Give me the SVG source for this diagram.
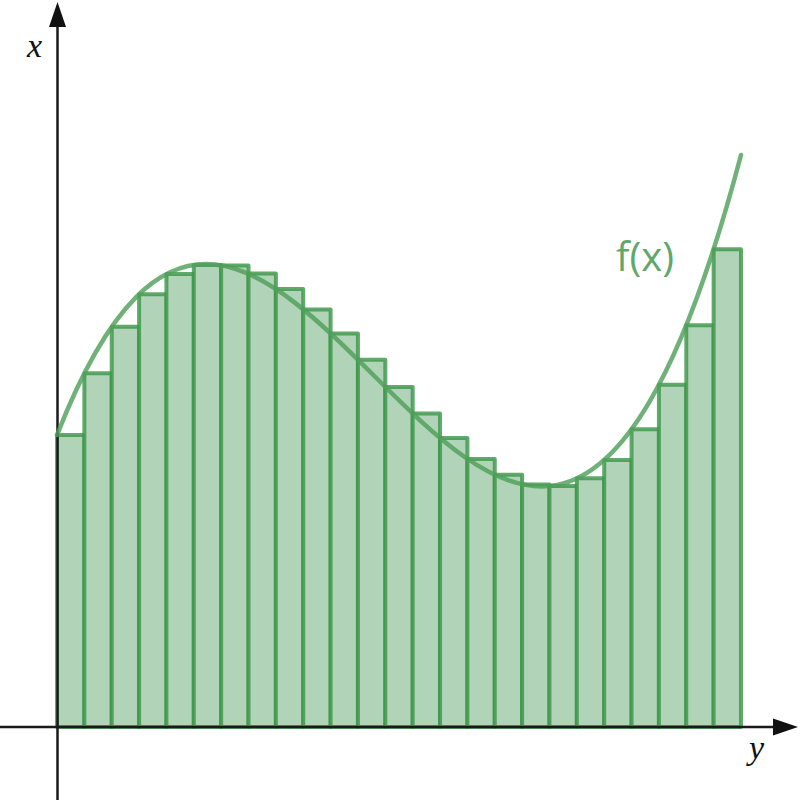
<svg xmlns="http://www.w3.org/2000/svg" width="800" height="800" viewBox="0 0 800 800">
<style>
.bar{fill:#b1d3b7;stroke:#3d974a;stroke-opacity:0.82;stroke-width:4;stroke-linejoin:round}
.curve{fill:none;stroke:#4fa05a;stroke-opacity:0.82;stroke-width:4.5;stroke-linecap:round}
.axis{stroke:#1a1a1a;stroke-width:2.5;fill:none}
.lbl{font-family:"Liberation Serif",serif;font-style:italic;font-size:34px;fill:#111}
.fx{font-family:"Open Sans","Noto Sans",sans-serif;font-size:40px;fill:#5fa86a}
</style>
<rect width="800" height="800" fill="#fff"/>
<g id="bars">
<rect class="bar" x="57" y="435" width="27.36" height="292"/>
<rect class="bar" x="84.36" y="373.2" width="27.36" height="353.8"/>
<rect class="bar" x="111.72" y="326.8" width="27.36" height="400.2"/>
<rect class="bar" x="139.08" y="294.2" width="27.36" height="432.8"/>
<rect class="bar" x="166.44" y="274.1" width="27.36" height="452.9"/>
<rect class="bar" x="193.8" y="265" width="27.36" height="462"/>
<rect class="bar" x="221.16" y="265.4" width="27.36" height="461.6"/>
<rect class="bar" x="248.52" y="273.4" width="27.36" height="453.6"/>
<rect class="bar" x="275.88" y="289.1" width="27.36" height="437.9"/>
<rect class="bar" x="303.24" y="309.4" width="27.36" height="417.6"/>
<rect class="bar" x="330.6" y="333.4" width="27.36" height="393.6"/>
<rect class="bar" x="357.96" y="359.8" width="27.36" height="367.2"/>
<rect class="bar" x="385.32" y="386.9" width="27.36" height="340.1"/>
<rect class="bar" x="412.68" y="413.5" width="27.36" height="313.5"/>
<rect class="bar" x="440.04" y="438" width="27.36" height="289"/>
<rect class="bar" x="467.4" y="458.9" width="27.36" height="268.1"/>
<rect class="bar" x="494.76" y="474.8" width="27.36" height="252.2"/>
<rect class="bar" x="522.12" y="484.4" width="27.36" height="242.6"/>
<rect class="bar" x="549.48" y="486" width="27.36" height="241"/>
<rect class="bar" x="576.84" y="478.3" width="27.36" height="248.7"/>
<rect class="bar" x="604.2" y="459.9" width="27.36" height="267.1"/>
<rect class="bar" x="631.56" y="429.2" width="27.36" height="297.8"/>
<rect class="bar" x="658.92" y="384.8" width="27.36" height="342.2"/>
<rect class="bar" x="686.28" y="325.2" width="27.36" height="401.8"/>
<rect class="bar" x="713.64" y="249.2" width="27.36" height="477.8"/>
</g>
<g id="axes">
<line class="axis" x1="0" y1="727" x2="780" y2="727"/>
<polygon points="798,727 773,718.5 773,735.5" fill="#111"/>
<line class="axis" x1="57.5" y1="800" x2="57.5" y2="22"/>
<polygon points="57.5,2 49,27 66,27" fill="#111"/>
</g>
<path id="curve" class="curve" d="M57,435 C285,-147.8 513,1018.8 741,155"/>
<text class="lbl" x="27" y="57">x</text>
<text class="lbl" x="749" y="759">y</text>
<text class="fx" x="616" y="271">f(x)</text>
</svg>
